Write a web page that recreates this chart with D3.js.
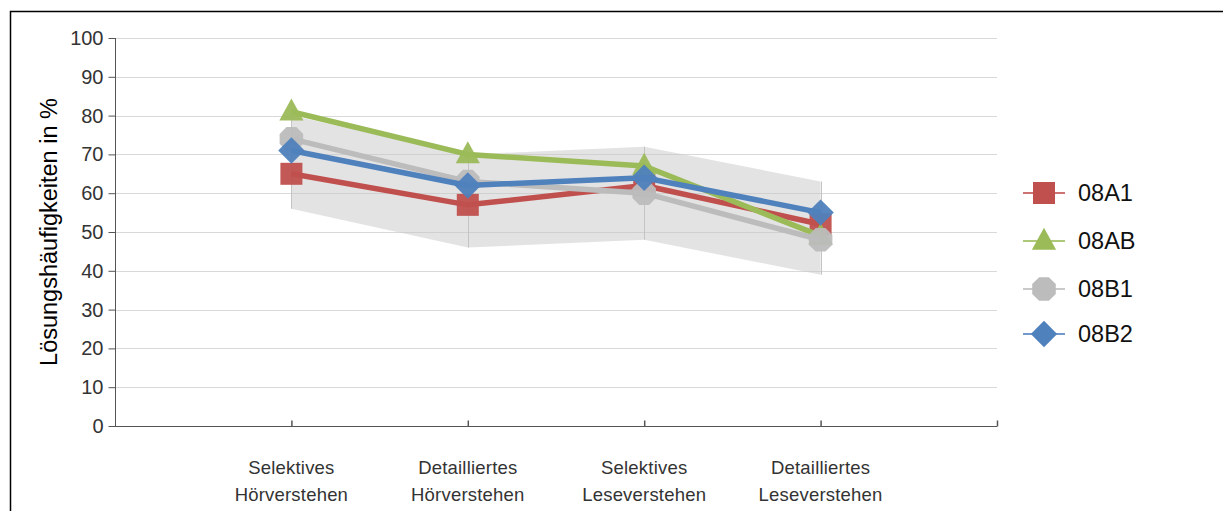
<!DOCTYPE html>
<html>
<head>
<meta charset="utf-8">
<script src="https://cdn.jsdelivr.net/npm/d3@7"></script>
<style>
  html, body { margin: 0; padding: 0; background: #fff; }
  svg { display: block; font-family: "Liberation Sans", Arial, sans-serif; }
</style>
</head>
<body>
<svg id="chart" width="1223" height="511"></svg>
<script>
// ---- data ----
const categories = [
  ["Selektives", "Hörverstehen"],
  ["Detailliertes", "Hörverstehen"],
  ["Selektives", "Leseverstehen"],
  ["Detailliertes", "Leseverstehen"]
];
const seriesNames = ["08A1", "08AB", "08B1", "08B2"];
const values08A1 = [65, 57, 62, 52];
const values08AB = [81, 70, 67, 49];
const values08B1 = [74, 63, 60, 48];
const values08B2 = [71, 62, 64, 55];
const bandLower = [56, 46, 48, 39];
const bandUpper = [80, 70, 72, 63];
const yTicks = [0, 10, 20, 30, 40, 50, 60, 70, 80, 90, 100];
const yTitle = "Lösungshäufigkeiten in %";

const seriesValues = [values08A1, values08AB, values08B1, values08B2];
const colors = ["#c0504d", "#9bbb59", "#bcbcbc", "#4f81bd"];
const shapes = ["square", "triangle", "circle", "diamond"];

const svg = d3.select("#chart");

// frame
svg.append("path")
  .attr("d", "M10.5,520 L10.5,11.5 L1240,11.5")
  .attr("fill", "none").attr("stroke", "#000").attr("stroke-width", 1.5);

const x = d3.scaleLinear().domain([0, 5]).range([115, 997]);
const y = d3.scaleLinear().domain([0, 100]).range([426, 38]);

// gridlines
svg.append("g").selectAll("line").data(yTicks.filter(d => d > 0)).join("line")
  .attr("x1", x(0)).attr("x2", x(5))
  .attr("y1", d => Math.round(y(d)) + 0.5).attr("y2", d => Math.round(y(d)) + 0.5)
  .attr("stroke", "#d9d9d9").attr("stroke-width", 1);

// band
const idx = categories.map((c, i) => i);
const area = d3.area()
  .x(i => x(i + 1))
  .y0(i => y(bandLower[i]))
  .y1(i => y(bandUpper[i]));
svg.append("path").datum(idx)
  .attr("d", area)
  .attr("fill", "rgb(200,200,200)").attr("fill-opacity", 0.5);
svg.append("g").selectAll("line").data(idx).join("line")
  .attr("x1", i => Math.round(x(i + 1)) + 0.5).attr("x2", i => Math.round(x(i + 1)) + 0.5)
  .attr("y1", i => y(bandLower[i])).attr("y2", i => y(bandUpper[i]))
  .attr("stroke", "#c4c4c4").attr("stroke-width", 1);

// axes
const yAxis = d3.axisLeft(y).tickValues(yTicks).tickSize(7).tickPadding(5);
const gy = svg.append("g").attr("transform", "translate(115.5,0)").call(yAxis);
gy.select(".domain").attr("stroke", "#555").attr("d", `M-0,${y(100)}V${y(0)}`);
gy.selectAll(".tick line").attr("stroke", "#555");
gy.selectAll(".tick text").attr("fill", "#333").style("font-size", "20px")
  .style("font-family", "'Liberation Sans', Arial, sans-serif");

const xAxis = d3.axisBottom(x).tickValues([1, 2, 3, 4, 5]).tickSize(-6).tickFormat("");
const gx = svg.append("g").attr("transform", "translate(0,426.5)").call(xAxis);
gx.select(".domain").attr("stroke", "#555").attr("d", `M${x(0)},0H${x(5)}`);
gx.selectAll(".tick line").attr("stroke", "#555").attr("stroke-width", 1.5);

// category labels
const lbl = svg.append("g").selectAll("text").data(categories).join("text")
  .attr("text-anchor", "middle")
  .attr("fill", "#333")
  .style("font-size", "18.5px")
  .style("letter-spacing", "0.2px");
lbl.each(function(d, i) {
  const t = d3.select(this);
  t.append("tspan").attr("x", x(i + 1)).attr("y", 474).text(d[0]);
  t.append("tspan").attr("x", x(i + 1)).attr("y", 501).text(d[1]);
});

// y title
svg.append("text")
  .attr("transform", `translate(57,${(y(0) + y(100)) / 2}) rotate(-90)`)
  .attr("text-anchor", "middle")
  .attr("fill", "#000")
  .style("font-size", "23.5px")
  .text(yTitle);

// marker path generator
function markerPath(shape, s) {
  switch (shape) {
    case "square": return `M${-s / 2},${-s / 2}h${s}v${s}h${-s}Z`;
    case "triangle": { const w = s * 1.1, h = s; return `M0,${-h * 0.6}L${w / 2},${h * 0.4}L${-w / 2},${h * 0.4}Z`; }
    case "diamond": { const r = s * 0.6; return `M0,${-r}L${r},0L0,${r}L${-r},0Z`; }
    case "circle": {
      const r = s * 0.58; const pts = [];
      for (let k = 0; k < 8; k++) { const a = Math.PI / 8 + k * Math.PI / 4; pts.push([r * Math.cos(a), r * Math.sin(a)]); }
      return "M" + pts.map(p => p.join(",")).join("L") + "Z";
    }
  }
}

const line = d3.line().x((d, i) => x(i + 1)).y(d => y(d));

seriesValues.forEach((vals, si) => {
  const g = svg.append("g");
  g.append("path").datum(vals)
    .attr("d", line)
    .attr("fill", "none")
    .attr("stroke", colors[si])
    .attr("stroke-width", 5.5)
    .attr("stroke-linejoin", "round");
  g.selectAll("path.m").data(vals).join("path")
    .attr("class", "m")
    .attr("transform", (d, i) => `translate(${x(i + 1)},${y(d)})`)
    .attr("d", markerPath(shapes[si], 22))
    .attr("fill", colors[si]).attr("fill-opacity", 0.95);
});

// legend
const legY = [193, 241, 289, 334];
const leg = svg.append("g").selectAll("g").data(seriesNames).join("g")
  .attr("transform", (d, i) => `translate(1044,${legY[i]})`);
leg.append("line")
  .attr("x1", -21).attr("x2", 21)
  .attr("stroke", (d, i) => colors[i]).attr("stroke-width", 2).attr("stroke-opacity", 0.8);
leg.append("path")
  .attr("d", (d, i) => markerPath(shapes[i], 22))
  .attr("fill", (d, i) => colors[i]);
leg.append("text")
  .attr("x", 34).attr("dy", "0.36em")
  .attr("fill", "#111")
  .style("font-size", "23.5px")
  .text(d => d);
</script>
</body>
</html>
